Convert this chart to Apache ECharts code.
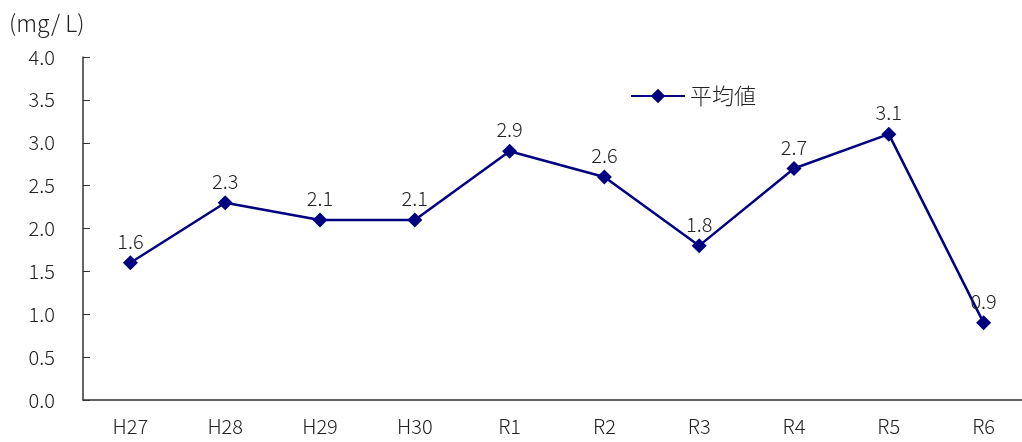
<!DOCTYPE html>
<html>
<head>
<meta charset="utf-8">
<script src="https://cdn.jsdelivr.net/npm/echarts@6/dist/echarts.min.js"></script>
<style>
  html, body { margin: 0; padding: 0; background: #fff; overflow: hidden; }
  /* the category axis runs past the right edge of the window */
  #chart { width: 1031px; height: 442px; }
</style>
</head>
<body>
<div id="chart"></div>
<script>
// Fiscal years (Heisei / Reiwa)
const categories = ['H27', 'H28', 'H29', 'H30', 'R1', 'R2', 'R3', 'R4', 'R5', 'R6'];
// Annual average concentration (mg/L)
const averageValues = [1.6, 2.3, 2.1, 2.1, 2.9, 2.6, 1.8, 2.7, 3.1, 0.9];
const seriesName = '平均値';
const unitLabel = '(mg/ L)';

const FONT = '"Noto Sans CJK JP", "Noto Sans", sans-serif';
const NAVY = '#000080';
const AXIS = '#333333';

const chart = echarts.init(document.getElementById('chart'), null, { renderer: 'canvas' });
chart.setOption({
  animation: false,
  backgroundColor: '#ffffff',
  textStyle: { fontFamily: FONT },
  graphic: [{
    type: 'text',
    left: 9,
    top: 12,
    style: { text: unitLabel, font: '300 23px ' + FONT, fill: '#222' }
  }],
  legend: {
    left: 625,
    top: 80,
    itemWidth: 54,
    itemHeight: 18,
    itemGap: 6,
    textStyle: { fontSize: 22, fontWeight: 300, color: '#222', fontFamily: FONT },
    data: [seriesName]
  },
  grid: { left: 83, top: 57, right: 0, bottom: 42 },
  xAxis: {
    type: 'category',
    data: categories,
    boundaryGap: true,
    axisLine: { lineStyle: { color: AXIS, width: 1.5 } },
    axisTick: { inside: true, length: 7, lineStyle: { color: AXIS } },
    axisLabel: { fontSize: 20, fontWeight: 300, color: '#222', margin: 16, fontFamily: FONT }
  },
  yAxis: {
    type: 'value',
    min: 0,
    max: 4,
    interval: 0.5,
    axisLine: { show: true, lineStyle: { color: AXIS, width: 1.5 } },
    axisTick: { show: true, inside: true, length: 7, lineStyle: { color: AXIS } },
    splitLine: { show: false },
    axisLabel: {
      fontSize: 20, fontWeight: 300, color: '#222', margin: 28, fontFamily: FONT,
      formatter: v => v.toFixed(1)
    }
  },
  series: [{
    name: seriesName,
    type: 'line',
    data: averageValues,
    symbol: 'diamond',
    symbolSize: 15,
    lineStyle: { color: NAVY, width: 2.5 },
    itemStyle: { color: NAVY },
    label: {
      show: true,
      position: 'top',
      distance: 4,
      fontSize: 20,
      fontWeight: 300,
      color: '#222',
      fontFamily: FONT,
      formatter: p => p.value.toFixed(1)
    }
  }]
});
</script>
</body>
</html>
